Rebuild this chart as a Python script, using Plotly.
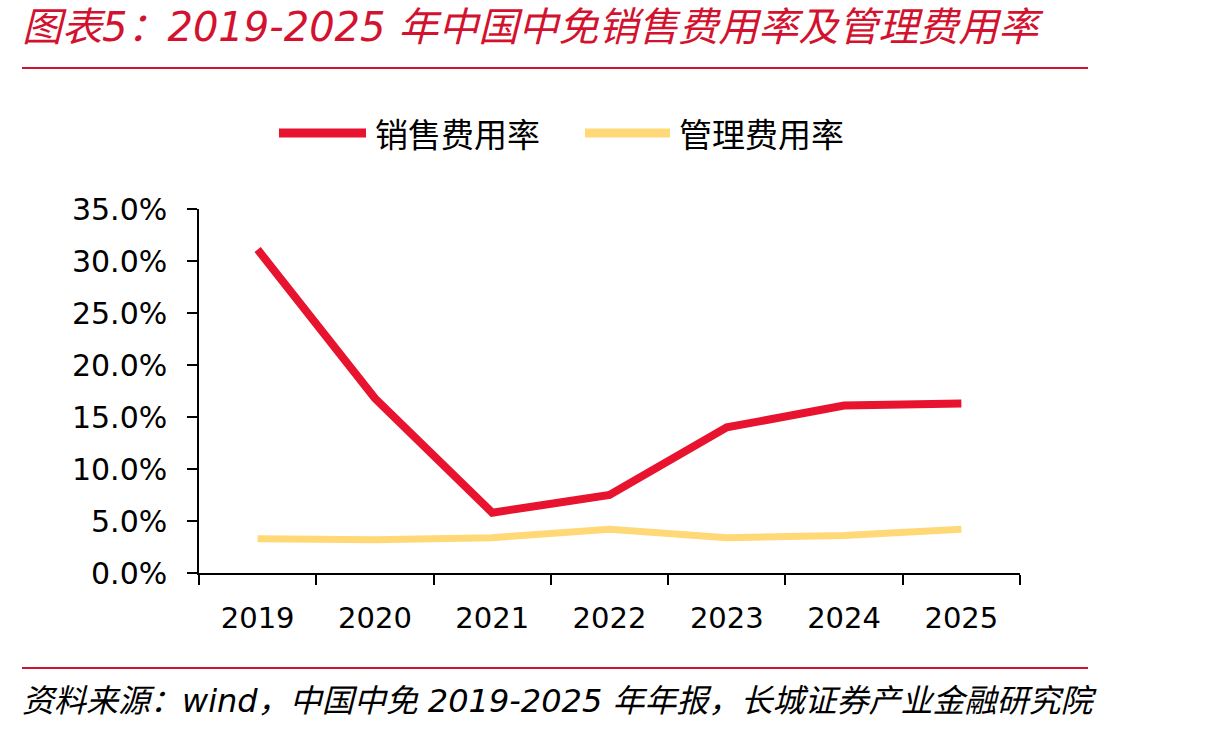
import plotly.graph_objects as go

years = ["2019", "2020", "2021", "2022", "2023", "2024", "2025"]
series_names = ["销售费用率", "管理费用率"]
selling_rate = [31.1, 16.8, 5.8, 7.5, 14.0, 16.1, 16.3]
admin_rate = [3.3, 3.2, 3.4, 4.2, 3.4, 3.6, 4.2]
colors = ["#E8132F", "#FFD978"]

title_text = "图表5：2019-2025 年中国中免销售费用率及管理费用率"
source_text = "资料来源：wind，中国中免 2019-2025 年年报，长城证券产业金融研究院"

W, H = 1210, 733
L, R, T, B = 199, 190, 209, 160
pw, ph = W - L - R, H - T - B

def px(x):
    return (x - L) / pw

def py(y):
    return (H - B - y) / ph

FONT = "DejaVu Sans, Noto Sans CJK SC, sans-serif"
CJK = "Noto Sans CJK SC, DejaVu Sans, sans-serif"

fig = go.Figure()
for name, vals, col, w in zip(series_names, [selling_rate, admin_rate], colors, [8, 7]):
    fig.add_trace(go.Scatter(x=years, y=vals, name=name, mode="lines",
                             line=dict(color=col, width=w), showlegend=False))

shapes = []
annotations = []
# title
annotations.append(dict(text=title_text, x=px(20), y=py(27), xref="paper", yref="paper",
                        xanchor="left", yanchor="middle", showarrow=False,
                        font=dict(family=FONT, size=40, color="#D2122E", style="italic")))
shapes.append(dict(type="line", xref="paper", yref="paper", x0=px(22), x1=px(1088),
                   y0=py(68), y1=py(68), line=dict(color="#D2122E", width=2)))
# footer
shapes.append(dict(type="line", xref="paper", yref="paper", x0=px(22), x1=px(1088),
                   y0=py(668), y1=py(668), line=dict(color="#D2122E", width=2)))
annotations.append(dict(text=source_text, x=px(20), y=py(701), xref="paper", yref="paper",
                        xanchor="left", yanchor="middle", showarrow=False,
                        font=dict(family=FONT, size=32, color="#000000", style="italic")))
# legend
leg = [(279, 366, 373), (585, 670, 677)]
for (x0, x1, tx), name, col in zip(leg, series_names, colors):
    shapes.append(dict(type="line", xref="paper", yref="paper", x0=px(x0), x1=px(x1),
                       y0=py(133), y1=py(133), line=dict(color=col, width=9)))
    annotations.append(dict(text=name, x=px(tx), y=py(133), xref="paper", yref="paper",
                            xanchor="left", yanchor="middle", showarrow=False,
                            font=dict(family=CJK, size=33, color="#000000")))

fig.update_layout(
    width=W, height=H,
    margin=dict(l=L, r=R, t=T, b=B, pad=0),
    paper_bgcolor="white", plot_bgcolor="white",
    shapes=shapes, annotations=annotations,
    showlegend=False,
    xaxis=dict(type="category", range=[-0.5, 6.5], showgrid=False, showline=True,
               linecolor="#000000", linewidth=1.5, ticks="outside", ticklen=10,
               tickwidth=1.5, tickcolor="#000000", tickson="boundaries",
               tickfont=dict(family=FONT, size=29, color="#000000"), ticklabelstandoff=18),
    yaxis=dict(range=[0, 35], dtick=5, tick0=0, showgrid=False, showline=True,
               linecolor="#000000", linewidth=1.5, ticks="outside", ticklen=10,
               tickwidth=1.5, tickcolor="#000000", tickformat=".1f", ticksuffix="%",
               zeroline=False, tickfont=dict(family=FONT, size=30, color="#000000"),
               ticklabelstandoff=14),
)

fig.write_html("out.html")
